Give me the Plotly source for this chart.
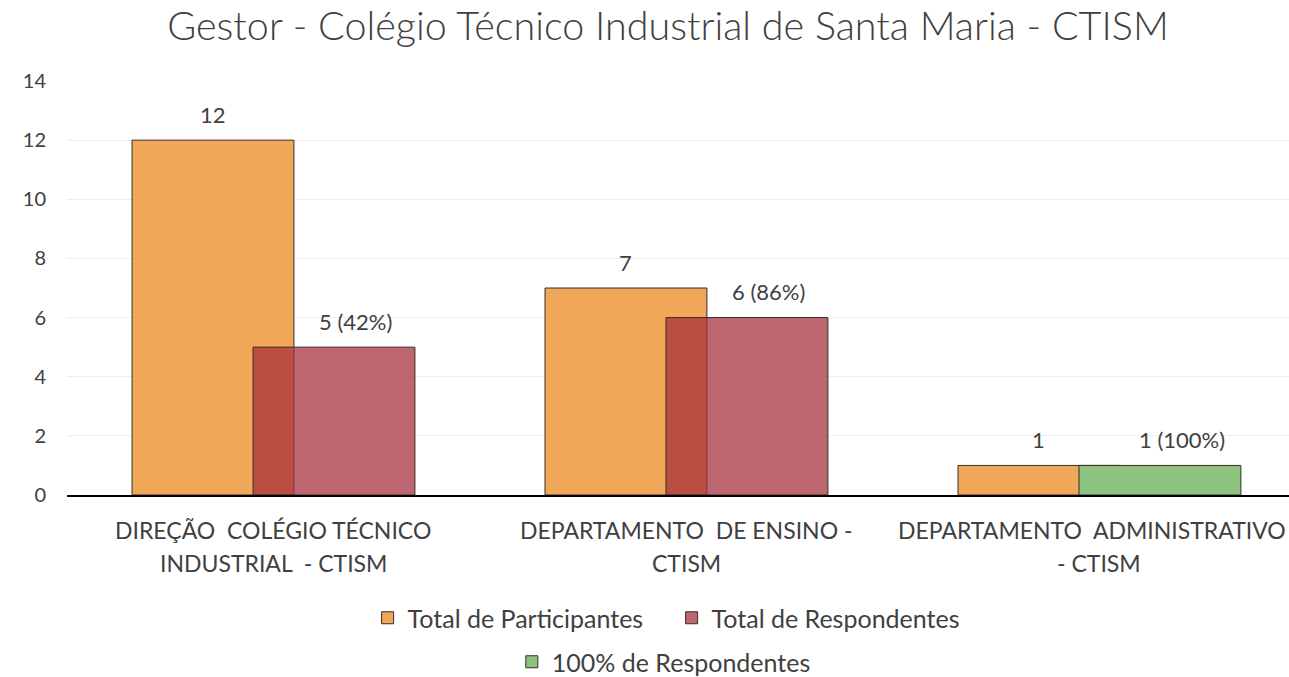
import plotly.graph_objects as go

title = "Gestor - Colégio Técnico Industrial de Santa Maria - CTISM"
cat_line1 = ["DIREÇÃO  COLÉGIO TÉCNICO", "DEPARTAMENTO  DE ENSINO -", "DEPARTAMENTO  ADMINISTRATIVO"]
cat_line2 = ["INDUSTRIAL  - CTISM", "CTISM", "- CTISM"]
participantes = [12, 7, 1]
respondentes = [5, 6, None]
resp_100 = [None, None, 1]
y_ticks = [0, 2, 4, 6, 8, 10, 12, 14]

x_pos = list(range(len(cat_line1)))
W = 0.392
SHIFT = 0.1465
LABEL_XSHIFT = [0, 0, -7]  # keep the last category label inside the page

FONT = "Lato, 'Open Sans', sans-serif"
TXT = "#404040"
EDGE = "rgb(55,45,40)"

fig = go.Figure()
fig.add_trace(go.Bar(
    x=x_pos, y=participantes, name="Total de Participantes",
    width=W, offset=-SHIFT - W / 2,
    marker=dict(color="rgba(240,160,75,0.93)", line=dict(color=EDGE, width=1)),
    legend="legend",
))
fig.add_trace(go.Bar(
    x=x_pos, y=respondentes, name="Total de Respondentes",
    width=W, offset=SHIFT - W / 2,
    marker=dict(color="rgba(165,45,58,0.72)", line=dict(color=EDGE, width=1)),
    legend="legend",
))
fig.add_trace(go.Bar(
    x=x_pos, y=resp_100, name="100% de Respondentes",
    width=W, offset=SHIFT - W / 2,
    marker=dict(color="rgb(141,194,129)", line=dict(color=EDGE, width=1)),
    legend="legend2",
))

annotations = []
for i, p in enumerate(participantes):
    annotations.append(dict(x=i - SHIFT, y=p, text=str(p), showarrow=False,
                            yanchor="middle", yshift=26, font=dict(size=22, color=TXT, family=FONT)))
for i, (p, r, r2) in enumerate(zip(participantes, respondentes, resp_100)):
    v = r if r is not None else r2
    annotations.append(dict(x=i + SHIFT, y=v, text=f"{v} ({round(v / p * 100)}%)", showarrow=False,
                            xshift=22, yanchor="middle", yshift=26, font=dict(size=22, color=TXT, family=FONT)))
for i, (l1, l2) in enumerate(zip(cat_line1, cat_line2)):
    annotations.append(dict(x=i, y=0, text=l1, showarrow=False, yanchor="middle", yshift=-35,
                            xshift=LABEL_XSHIFT[i], font=dict(size=23, color=TXT, family=FONT)))
    annotations.append(dict(x=i, y=0, text=l2, showarrow=False, yanchor="middle", yshift=-68,
                            font=dict(size=23, color=TXT, family=FONT)))

fig.update_layout(
    width=1289, height=677,
    paper_bgcolor="white", plot_bgcolor="white",
    barmode="overlay",
    margin=dict(l=67, r=0, t=81, b=182),
    title=dict(text=title, x=668 / 1289, xanchor="center", y=1 - 26 / 677, yanchor="middle",
               font=dict(size=39.5, color=TXT, family=FONT, weight=300)),
    font=dict(family=FONT, color=TXT, size=20),
    xaxis=dict(range=[-0.5, 2.459], tickvals=x_pos, showticklabels=False, ticks="",
               showgrid=False, showline=True, linecolor="black", linewidth=2, zeroline=False),
    yaxis=dict(range=[0, 14], tickvals=y_ticks, showgrid=True, gridcolor="#EEEEEE", gridwidth=1,
               zeroline=False, showline=False, ticks="", tickfont=dict(size=20, color=TXT),
               ticklabelstandoff=20),
    legend=dict(orientation="h", x=0.246, xanchor="left", yref="container", y=1 - 618 / 677,
                yanchor="middle",
                font=dict(size=25, color=TXT, family=FONT), entrywidth=259, entrywidthmode="pixels",
                bgcolor="rgba(0,0,0,0)"),
    legend2=dict(orientation="h", x=0.364, xanchor="left", yref="container", y=1 - 662 / 677,
                 yanchor="middle",
                 font=dict(size=25, color=TXT, family=FONT), bgcolor="rgba(0,0,0,0)"),
    annotations=annotations,
)

fig.write_html("out.html", config={"displayModeBar": False},
               post_script="document.body.style.margin='0';")
